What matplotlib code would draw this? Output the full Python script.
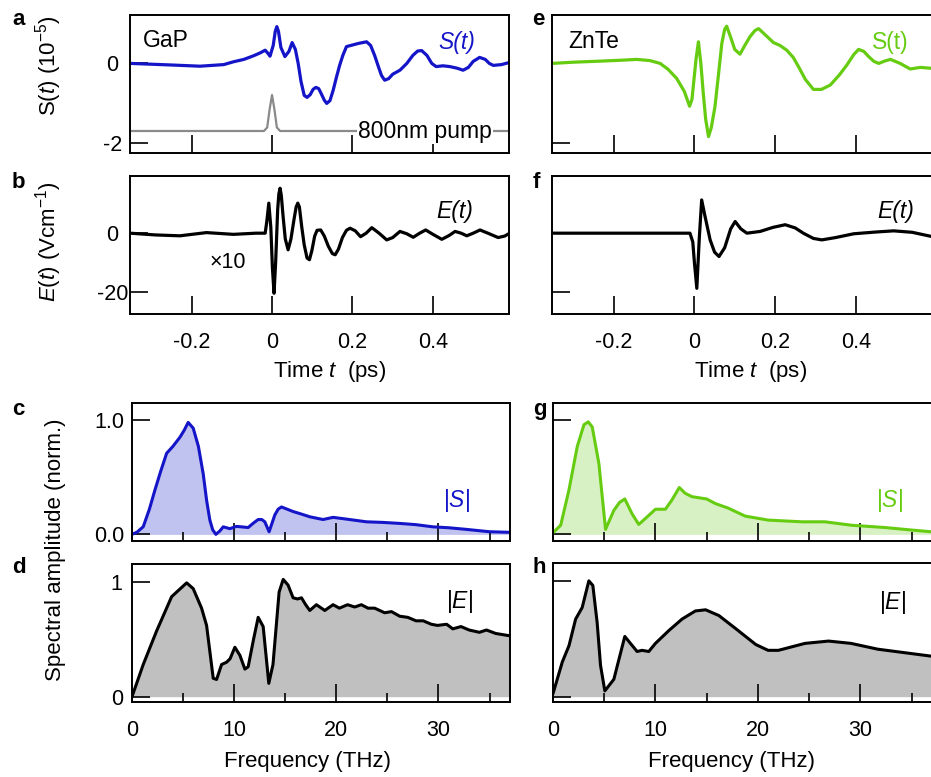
import matplotlib
matplotlib.use("Agg")
import matplotlib.pyplot as plt

plt.rcParams['font.family'] = ['Liberation Sans', 'DejaVu Sans']
plt.rcParams['mathtext.fontset'] = 'custom'
plt.rcParams['mathtext.rm'] = 'Liberation Sans'
plt.rcParams['mathtext.it'] = 'Liberation Sans:italic'
plt.rcParams['axes.unicode_minus'] = False

BLUE = '#1414c8'
GREEN = '#66cc11'

# ---------------- data ----------------
# a: GaP S(t) (10^-5)
t_gap_S = [-0.353, -0.25, -0.179, -0.12, -0.096, -0.07, -0.046, -0.03, -0.017, -0.01, -0.005, 0.003, 0.008,
           0.012, 0.016, 0.022, 0.032, 0.042, 0.05, 0.058, 0.065, 0.072, 0.08, 0.087, 0.095, 0.102, 0.109,
           0.116, 0.122, 0.13, 0.136, 0.144, 0.152, 0.16, 0.168, 0.176, 0.185, 0.2, 0.215, 0.235, 0.245,
           0.255, 0.265, 0.272, 0.28, 0.29, 0.3, 0.318, 0.335, 0.35, 0.362, 0.372, 0.385, 0.397, 0.408,
           0.425, 0.442, 0.46, 0.475, 0.488, 0.5, 0.516, 0.53, 0.54, 0.55, 0.57, 0.589]
S_gap = [0.0, -0.04, -0.07, -0.03, 0.04, 0.1, 0.19, 0.26, 0.33, 0.25, 0.18, 0.45, 0.8,
         0.92, 0.8, 0.4, 0.17, 0.3, 0.52, 0.35, 0.0, -0.45, -0.8, -0.85, -0.78, -0.65, -0.6,
         -0.63, -0.75, -0.92, -1.0, -0.93, -0.67, -0.35, -0.05, 0.2, 0.42, 0.46, 0.5, 0.54, 0.45,
         0.2, -0.1, -0.3, -0.42, -0.38, -0.27, -0.17, 0.0, 0.2, 0.31, 0.32, 0.2, 0.0, -0.08,
         -0.06, -0.08, -0.12, -0.17, -0.1, 0.05, 0.15, 0.1, 0.0, -0.05, -0.03, 0.02]
# 800 nm pump (same axes)
t_pump = [-0.353, -0.02, -0.012, -0.006, 0.0, 0.006, 0.012, 0.02, 0.589]
pump = [-1.69, -1.69, -1.6, -1.15, -0.79, -1.15, -1.6, -1.69, -1.69]

# b: GaP E(t) (V/cm, x10)
t_gap_E = [-0.353, -0.29, -0.229, -0.163, -0.096, -0.04, -0.017, -0.013, -0.008, -0.003, 0.001, 0.005, 0.009,
           0.014, 0.017, 0.02, 0.023, 0.028, 0.033, 0.04, 0.047, 0.055, 0.06, 0.064, 0.068, 0.074, 0.08,
           0.087, 0.093, 0.099, 0.106, 0.112, 0.121, 0.13, 0.14, 0.15, 0.157, 0.165, 0.175, 0.185, 0.194,
           0.207, 0.22, 0.234, 0.248, 0.266, 0.285, 0.3, 0.318, 0.335, 0.351, 0.367, 0.382, 0.4, 0.422,
           0.44, 0.455, 0.47, 0.484, 0.5, 0.517, 0.54, 0.562, 0.578, 0.591]
E_gap = [0.0, -0.6, -0.9, 0.2, -0.4, 0.0, 0.0, 4.0, 10.3, 2.0, -12.0, -20.6, -10.0,
         8.0, 13.5, 15.4, 13.0, 5.0, -2.0, -5.7, -2.0, 5.0, 9.0, 10.3, 9.0, 2.0, -4.0,
         -8.5, -9.1, -6.0, -1.0, 1.0, 1.1, -1.0, -4.5, -7.0, -7.4, -5.5, -1.5, 1.0, 1.7,
         0.8, -1.2, 0.0, 1.9, 0.0, -2.3, -1.5, 0.6, -0.2, -1.4, 0.0, 1.1, -0.4, -2.1,
         -0.8, 0.6, 0.0, -0.9, 0.0, 1.1, -0.2, -1.5, -1.0, 0.0]

# e: ZnTe S(t)
t_znte_S = [-0.353, -0.3, -0.226, -0.18, -0.143, -0.11, -0.085, -0.065, -0.044, -0.025, -0.012, -0.006, -0.002,
            0.004, 0.01, 0.016, 0.022, 0.028, 0.035, 0.042, 0.051, 0.06, 0.068, 0.075, 0.08, 0.09, 0.1, 0.113,
            0.125, 0.138, 0.15, 0.159, 0.175, 0.196, 0.212, 0.229, 0.245, 0.258, 0.275, 0.295, 0.315, 0.337,
            0.36, 0.378, 0.395, 0.407, 0.42, 0.432, 0.445, 0.457, 0.472, 0.486, 0.51, 0.535, 0.56, 0.585]
S_znte = [0.0, 0.03, 0.06, 0.08, 0.1, 0.07, 0.0, -0.15, -0.375, -0.7, -1.07, -0.9, -0.5,
          0.1, 0.54, 0.0, -0.75, -1.4, -1.83, -1.6, -1.08, -0.25, 0.5, 0.85, 0.93, 0.65, 0.35, 0.23,
          0.45, 0.67, 0.82, 0.87, 0.72, 0.52, 0.45, 0.33, 0.15, -0.08, -0.4, -0.65, -0.65, -0.54,
          -0.28, -0.04, 0.22, 0.35, 0.3, 0.17, 0.05, 0.0, 0.06, 0.1, 0.0, -0.14, -0.1, -0.12]

# f: ZnTe E(t)
t_znte_E = [-0.353, -0.2, -0.05, -0.011, -0.004, 0.0, 0.006, 0.012, 0.018, 0.026, 0.039, 0.05, 0.061,
            0.075, 0.09, 0.101, 0.115, 0.13, 0.163, 0.195, 0.225, 0.25, 0.27, 0.295, 0.316, 0.35, 0.395,
            0.45, 0.494, 0.54, 0.587]
E_znte = [0.0, 0.0, 0.0, 0.0, -3.0, -10.0, -18.9, -2.0, 11.4, 6.0, -2.3, -6.5, -8.0,
          -5.0, 1.5, 4.0, 1.5, 0.0, 0.6, 2.0, 2.9, 1.8, 0.0, -1.8, -2.3, -1.5, -0.2,
          0.4, 0.8, 0.3, -1.1]

# c: GaP |S| spectrum
f_gap_S = [0.0, 0.5, 1.1, 1.7, 2.25, 2.8, 3.39, 4.0, 4.69, 5.1, 5.5, 5.99, 6.5, 6.97, 7.3, 7.62, 7.9, 8.21,
           8.6, 8.93, 9.58, 10.23, 10.8, 11.37, 11.9, 12.35, 12.7, 13.0, 13.42, 13.98, 14.3, 14.63, 15.2,
           15.77, 16.5, 17.4, 18.7, 19.68, 21.3, 22.94, 24.5, 26.2, 27.8, 29.45, 31.0, 32.7, 35.0, 36.95]
S_gap_spec = [0.0, 0.02, 0.067, 0.22, 0.39, 0.55, 0.71, 0.77, 0.85, 0.91, 0.98, 0.93, 0.77, 0.53, 0.3,
              0.125, 0.04, 0.0, 0.03, 0.066, 0.05, 0.07, 0.065, 0.06, 0.1, 0.13, 0.13, 0.11, 0.023, 0.17,
              0.22, 0.24, 0.22, 0.2, 0.18, 0.154, 0.13, 0.149, 0.13, 0.11, 0.105, 0.096, 0.085, 0.066,
              0.058, 0.044, 0.023, 0.018]

# d: GaP |E| spectrum
f_gap_E = [0.0, 1.1, 2.4, 3.88, 5.35, 5.99, 6.81, 7.3, 7.95, 8.28, 8.77, 9.26, 9.6, 10.07, 10.56, 11.05,
           11.37, 11.9, 12.35, 12.84, 13.39, 13.8, 14.4, 14.8, 15.28, 15.77, 16.2, 16.59, 17.0, 17.4, 18.05,
           18.87, 19.68, 20.3, 21.1, 21.8, 22.45, 23.1, 23.75, 24.73, 25.4, 26.2, 27.0, 27.8, 28.5, 29.3,
           29.9, 30.8, 31.4, 32.2, 33.0, 34.0, 34.7, 35.6, 36.95]
E_gap_spec = [0.0, 0.28, 0.57, 0.87, 0.99, 0.94, 0.77, 0.62, 0.16, 0.15, 0.28, 0.3, 0.33, 0.43, 0.36, 0.24,
              0.26, 0.5, 0.69, 0.61, 0.116, 0.28, 0.91, 1.02, 0.97, 0.86, 0.85, 0.86, 0.8, 0.75, 0.8,
              0.75, 0.8, 0.77, 0.8, 0.78, 0.8, 0.77, 0.77, 0.73, 0.74, 0.7, 0.69, 0.66, 0.66, 0.63,
              0.62, 0.63, 0.59, 0.61, 0.58, 0.56, 0.58, 0.55, 0.53]

# g: ZnTe |S| spectrum
f_znte_S = [0.1, 0.75, 1.56, 2.37, 3.02, 3.44, 3.83, 4.48, 5.13, 5.5, 5.94, 6.5, 7.01, 7.72, 8.37, 9.03,
            10.0, 10.97, 11.6, 12.33, 12.9, 13.56, 15.0, 15.84, 17.1, 18.76, 21.0, 24.3, 26.55, 29.14,
            32.4, 35.0, 36.9]
S_znte_spec = [0.023, 0.08, 0.39, 0.77, 0.96, 0.985, 0.94, 0.62, 0.044, 0.12, 0.21, 0.28, 0.31, 0.18,
               0.087, 0.14, 0.22, 0.22, 0.3, 0.41, 0.36, 0.33, 0.31, 0.27, 0.23, 0.16, 0.125, 0.11,
               0.11, 0.08, 0.06, 0.038, 0.023]

# h: ZnTe |E| spectrum
f_znte_E = [0.03, 0.91, 1.56, 2.21, 2.85, 3.5, 3.89, 4.31, 4.64, 5.06, 5.94, 7.01, 7.56, 8.21, 8.69, 9.35,
            10.0, 11.3, 12.6, 13.9, 14.9, 16.2, 17.8, 19.8, 21.0, 22.0, 24.6, 26.9, 29.1, 31.7, 34.3, 36.9]
E_znte_spec = [0.035, 0.3, 0.44, 0.67, 0.77, 1.0, 0.96, 0.64, 0.27, 0.05, 0.15, 0.52, 0.46, 0.39, 0.4,
               0.39, 0.46, 0.57, 0.67, 0.74, 0.75, 0.7, 0.59, 0.45, 0.4, 0.4, 0.46, 0.48, 0.46, 0.41,
               0.38, 0.35]

time_ticks = [-0.2, 0.0, 0.2, 0.4]
time_ticklabels = ['-0.2', '0', '0.2', '0.4']
freq_ticks = [0, 10, 20, 30]
freq_minor = [5, 15, 25, 35]
freq_ticklabels = ['0', '10', '20', '30']

# ---------------- figure ----------------
W, H = 931, 777
fig = plt.figure(figsize=(W / 100, H / 100), dpi=100)


def ax_px(x0, y0, x1, y1):
    return fig.add_axes([x0 / W, 1 - y1 / H, (x1 - x0) / W, (y1 - y0) / H])


ax_a = ax_px(130, 15, 509, 153)
ax_b = ax_px(130, 176, 509, 314)
ax_e = ax_px(552, 15, 932, 153)
ax_f = ax_px(552, 176, 932, 314)
ax_c = ax_px(132, 403, 510, 541)
ax_d = ax_px(132, 564, 510, 702)
ax_g = ax_px(553, 403, 932, 541)
ax_h = ax_px(553, 563, 932, 702)

TFS = 15.5   # tick labels
LFS = 16     # axis labels
AFS = 16.5   # annotations

LW_SP = 1.4
for ax in [ax_a, ax_b, ax_e, ax_f, ax_c, ax_d, ax_g, ax_h]:
    for s in ax.spines.values():
        s.set_linewidth(LW_SP)
    ax.tick_params(direction='in', length=13, width=1.2, top=False, right=False,
                   labelsize=TFS, colors='black')

TLIM = (-0.353, 0.589)
FLIM = (0, 37)

# time panels
for ax in [ax_a, ax_e]:
    ax.set_xlim(*TLIM)
    ax.set_ylim(-2.24, 1.21)
    ax.set_yticks([0, -2])
    ax.set_xticks(time_ticks)
    ax.set_xticklabels([])
for ax in [ax_b, ax_f]:
    ax.set_xlim(*TLIM)
    ax.set_ylim(-27.7, 19.6)
    ax.set_yticks([0, -20])
    ax.set_xticks(time_ticks)
    ax.set_xticklabels(time_ticklabels)
    ax.tick_params(axis='x', pad=13)
ax_a.set_yticklabels(['0', '-2'])
ax_b.set_yticklabels(['0', '-20'])
ax_e.set_yticklabels([])
ax_f.set_yticklabels([])

# spectra panels
for ax in [ax_c, ax_g, ax_d, ax_h]:
    ax.set_xlim(*FLIM)
    ax.set_xticks(freq_ticks)
    ax.set_xticks(freq_minor, minor=True)
    ax.tick_params(which='minor', direction='in', length=6.5, width=1.2, top=False, right=False)
    ax.set_yticks([0, 1])
for ax in [ax_c, ax_g]:
    ax.set_ylim(-0.058, 1.15)
    ax.set_xticklabels([])
for ax in [ax_d, ax_h]:
    ax.set_ylim(-0.046, 1.154)
    ax.set_xticklabels(freq_ticklabels)
    ax.tick_params(axis='x', pad=13)
ax_c.set_yticklabels(['0.0', '1.0'])
ax_d.set_yticklabels(['0', '1'])
ax_g.set_yticklabels([])
ax_h.set_yticklabels([])

# center-aligned y tick labels (left column)
for ax, pad in [(ax_a, 12.5), (ax_b, 12.5), (ax_c, 16.5), (ax_d, 11)]:
    ax.tick_params(axis='y', pad=pad)
    for lab in ax.get_yticklabels():
        lab.set_horizontalalignment('center')

# ---- draw data ----
ax_a.plot(t_pump, pump, color='#8a8a8a', lw=1.6)
ax_a.plot(t_gap_S, S_gap, color=BLUE, lw=2.3)
ax_b.plot(t_gap_E, E_gap, color='black', lw=2.3)
ax_e.plot(t_znte_S, S_znte, color=GREEN, lw=2.3)
ax_f.plot(t_znte_E, E_znte, color='black', lw=2.3)

ax_c.fill_between(f_gap_S, S_gap_spec, 0, color='#c0c2f0', lw=0)
ax_c.plot(f_gap_S, S_gap_spec, color=BLUE, lw=2.2)
ax_d.fill_between(f_gap_E, E_gap_spec, 0, color='#c0c0c0', lw=0)
ax_d.plot(f_gap_E, E_gap_spec, color='black', lw=2.2)
ax_g.fill_between(f_znte_S, S_znte_spec, 0, color='#d8f1c4', lw=0)
ax_g.plot(f_znte_S, S_znte_spec, color=GREEN, lw=2.2)
ax_h.fill_between(f_znte_E, E_znte_spec, 0, color='#c0c0c0', lw=0)
ax_h.plot(f_znte_E, E_znte_spec, color='black', lw=2.2)

# ---- annotations ----
ax_a.text(0.034, 0.768, 'GaP', transform=ax_a.transAxes, fontsize=AFS, va='baseline', ha='left')
ax_a.text(0.91, 0.75, 'S(t)', transform=ax_a.transAxes, fontsize=AFS, va='baseline', ha='right',
          color=BLUE, style='italic')
ax_a.text(0.602, 0.109, '800nm pump', transform=ax_a.transAxes, fontsize=AFS, va='baseline', ha='left',
          bbox=dict(facecolor='white', edgecolor='none', pad=1.0))
ax_b.text(0.905, 0.696, 'E(t)', transform=ax_b.transAxes, fontsize=AFS, va='baseline', ha='right',
          style='italic')
ax_b.text(0.211, 0.333, '×10', transform=ax_b.transAxes, fontsize=AFS - 1, va='baseline', ha='left')
ax_e.text(0.042, 0.761, 'ZnTe', transform=ax_e.transAxes, fontsize=AFS, va='baseline', ha='left')
ax_e.text(0.939, 0.75, 'S(t)', transform=ax_e.transAxes, fontsize=AFS, va='baseline', ha='right',
          color=GREEN)
ax_f.text(0.953, 0.696, 'E(t)', transform=ax_f.transAxes, fontsize=AFS, va='baseline', ha='right',
          style='italic')
ax_c.text(0.894, 0.29, r'|$\mathit{S}$|', transform=ax_c.transAxes, fontsize=AFS, va='center', ha='right',
          color=BLUE)
ax_g.text(0.923, 0.297, r'|$\mathit{S}$|', transform=ax_g.transAxes, fontsize=AFS, va='center', ha='right',
          color=GREEN)
ax_d.text(0.902, 0.725, r'|$\mathit{E}$|', transform=ax_d.transAxes, fontsize=AFS, va='center', ha='right')
ax_h.text(0.931, 0.717, r'|$\mathit{E}$|', transform=ax_h.transAxes, fontsize=AFS, va='center', ha='right')


# axis labels (figure pixel positions)
def ftext(x, y, s, **kw):
    fig.text(x / W, 1 - y / H, s, **kw)


ftext(49, 66, r'S($\mathit{t}$) (10$^{-5}$)', rotation=90, ha='center', va='center', fontsize=LFS)
ftext(49, 242, r'$\mathit{E(t)}$ (Vcm$^{-1}$)', rotation=90, ha='center', va='center', fontsize=LFS)
ftext(55, 550, 'Spectral amplitude (norm.)', rotation=90, ha='center', va='center', fontsize=LFS)
ftext(330, 372, r'Time $\mathit{t}$  (ps)', ha='center', va='center', fontsize=LFS)
ftext(751, 372, r'Time $\mathit{t}$  (ps)', ha='center', va='center', fontsize=LFS)
ftext(308, 761, 'Frequency (THz)', ha='center', va='center', fontsize=LFS)
ftext(731, 761, 'Frequency (THz)', ha='center', va='center', fontsize=LFS)

# panel letters
for (x, y, s) in [(12, 25, 'a'), (12, 188, 'b'), (12, 415, 'c'), (12, 573, 'd'),
                  (532, 25, 'e'), (533, 188, 'f'), (533, 415, 'g'), (533, 573, 'h')]:
    ftext(x, y, s, ha='left', va='baseline', fontsize=16, fontweight='bold')

fig.savefig('out.png', dpi=100)
